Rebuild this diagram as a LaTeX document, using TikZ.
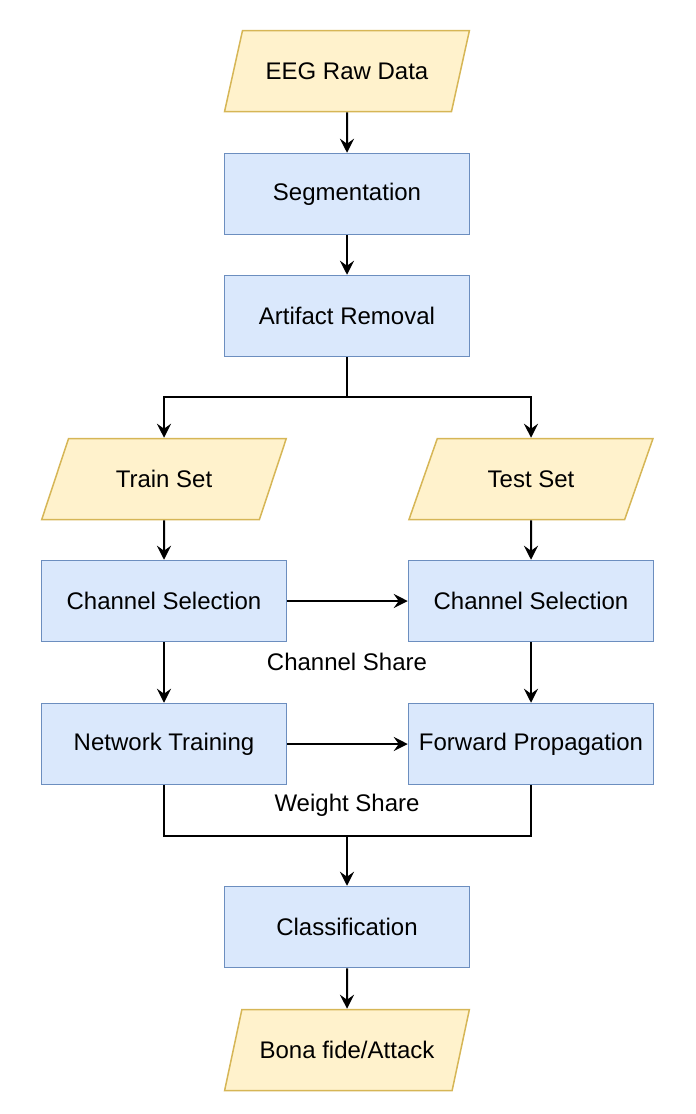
\documentclass[tikz,border=0pt]{standalone}
\usepackage{fontspec}
\setmainfont{Liberation Sans}
\usetikzlibrary{shapes.geometric,arrows.meta}
\definecolor{procfill}{HTML}{DAE8FC}
\definecolor{procline}{HTML}{6C8EBF}
\definecolor{iofill}{HTML}{FFF2CC}
\definecolor{ioline}{HTML}{D6B656}
\begin{document}
\begin{tikzpicture}[x=0.5pt,y=-0.5pt,
  proc/.style={draw=procline, fill=procfill, line width=0.75pt,
    minimum width=122.5pt, minimum height=40.5pt, font=\fontsize{12}{14}\selectfont},
  io/.style={trapezium, trapezium left angle=63.5, trapezium right angle=116.5,
    trapezium stretches=true, draw=ioline, fill=iofill, line width=0.75pt,
    minimum width=122.5pt, minimum height=40.5pt, font=\fontsize{12}{14}\selectfont},
  lbl/.style={font=\fontsize{12}{14}\selectfont},
  ->/.style={-{Stealth[length=7pt,width=7pt,inset=2.5pt]}},
  line width=1pt]
  \useasboundingbox (0,0) rectangle (696,1114);
  \node[io] (raw) at (347,71) {EEG Raw Data};
  \node[proc] (seg) at (347,194) {Segmentation};
  \node[proc] (art) at (347,316) {Artifact Removal};
  \node[io] (train) at (164,479) {Train Set};
  \node[io] (test) at (531,479) {Test Set};
  \node[proc] (chl) at (164,601) {Channel Selection};
  \node[proc] (chr) at (531,601) {Channel Selection};
  \node[proc] (net) at (164,744) {Network Training};
  \node[proc] (fwd) at (531,744) {Forward Propagation};
  \node[proc] (cls) at (347,927) {Classification};
  \node[io] (out) at (347,1050) {Bona fide/Attack};
  \node[lbl] (chshare) at (347,662) {Channel Share};
  \node[lbl] (wshare) at (347,805) {Weight Share};
  \coordinate (split) at (347,397);
  \coordinate (merge) at (347,836);

  \draw[->] (raw) -- (seg);
  \draw[->] (seg) -- (art);
  \draw (art.south) -- (split);
  \draw[->] (split) -| (train.north);
  \draw[->] (split) -| (test.north);
  \draw[->] (train) -- (chl);
  \draw[->] (test) -- (chr);
  \draw[->] (chl) -- (chr);
  \draw[->] (chl) -- (net);
  \draw[->] (chr) -- (fwd);
  \draw[->] (net) -- (fwd);
  \draw (net.south) |- (merge) -| (fwd.south);
  \draw[->] (merge) -- (cls);
  \draw[->] (cls) -- (out);
\end{tikzpicture}
\end{document}
